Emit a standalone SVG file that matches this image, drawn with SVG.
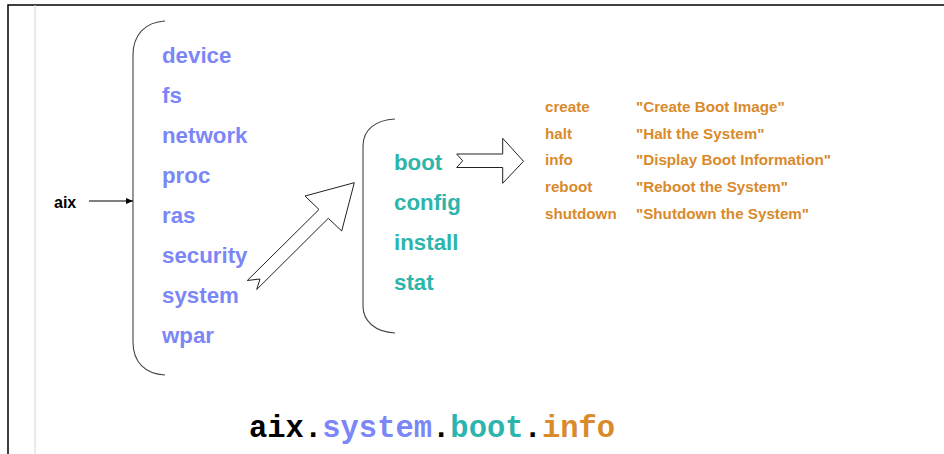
<svg xmlns="http://www.w3.org/2000/svg" width="944" height="454" viewBox="0 0 944 454">
<style>
.frame{stroke:#000;stroke-width:1.5;fill:none}
.guide{stroke:#d4d4d4;stroke-width:1;fill:none}
.brace{stroke:#444;stroke-width:1.1;fill:none}
.blk{fill:#fff;stroke:#222;stroke-width:1}
.t1{font-family:"Liberation Sans",Arial,sans-serif;font-weight:bold;font-size:22.3px;fill:#7b86f7}
.t2{font-family:"Liberation Sans",Arial,sans-serif;font-weight:bold;font-size:22.3px;fill:#2db5ad}
.t3{font-family:"Liberation Sans",Arial,sans-serif;font-weight:bold;font-size:15.2px;fill:#d98a2b}
.lab{font-family:"Liberation Sans",Arial,sans-serif;font-weight:bold;font-size:16px;fill:#000}
.mono{font-family:"Liberation Mono","Courier New",monospace;font-weight:bold;font-size:30.5px}
</style>
<defs>
<marker id="ah" markerWidth="8" markerHeight="8" refX="7" refY="4" orient="auto" markerUnits="userSpaceOnUse">
<path d="M0,1 L7,4 L0,7 Z" fill="#000"/>
</marker>
</defs>
<rect x="0" y="0" width="944" height="454" fill="#fff"/>
<path class="frame" d="M8,454 L8,5 L944,5"/>
<path class="guide" d="M35,5 L35,454"/>

<g id="aix">
<text class="lab" x="54" y="208">aix</text>
</g>

<g id="level1">
<path class="brace" d="M165,21 C145,22 133,35 133,55 L133,342 C133,362 145,374 165,375"/>
<text class="t1" x="162" y="63">device</text>
<text class="t1" x="162" y="103">fs</text>
<text class="t1" x="162" y="143">network</text>
<text class="t1" x="162" y="183">proc</text>
<text class="t1" x="162" y="223">ras</text>
<text class="t1" x="162" y="263">security</text>
<text class="t1" x="162" y="303">system</text>
<text class="t1" x="162" y="343">wpar</text>
</g>

<g id="level2">
<path class="brace" d="M395,119 C375,120 363,130 363,146 L363,306 C363,321 375,332 395,333"/>
<text class="t2" x="394" y="170">boot</text>
<text class="t2" x="394" y="210">config</text>
<text class="t2" x="394" y="250">install</text>
<text class="t2" x="394" y="290">stat</text>
</g>

<g id="level3">
<text class="t3" x="545" y="112">create</text>
<text class="t3" x="545" y="138.5">halt</text>
<text class="t3" x="545" y="165">info</text>
<text class="t3" x="545" y="192">reboot</text>
<text class="t3" x="545" y="219">shutdown</text>
<text class="t3" x="636" y="112">"Create Boot Image"</text>
<text class="t3" x="636" y="138.5">"Halt the System"</text>
<text class="t3" x="636" y="165">"Display Boot Information"</text>
<text class="t3" x="636" y="192">"Reboot the System"</text>
<text class="t3" x="636" y="219">"Shutdown the System"</text>
</g>

<g id="connectors">
<line x1="89" y1="201" x2="133" y2="201" stroke="#000" stroke-width="1" marker-end="url(#ah)"/>
<path class="blk" d="M354.3,182.7 L305,196 L319,209.5 L247.3,280.5 L260,279 L256.7,289.5 L328.3,218.3 L341.7,231 Z"/>
<path class="blk" d="M456.7,154 L502.7,154 L502.7,138.3 L523.5,161.3 L502.7,183.3 L502.7,167.5 L456.7,167.5 L462.7,160.8 Z"/>
</g>

<g id="path-label">
<text class="mono" x="249" y="437"><tspan fill="#000">aix.</tspan><tspan fill="#7b86f7">system</tspan><tspan fill="#000">.</tspan><tspan fill="#2db5ad">boot</tspan><tspan fill="#000">.</tspan><tspan fill="#d98a2b">info</tspan></text>
</g>
</svg>
